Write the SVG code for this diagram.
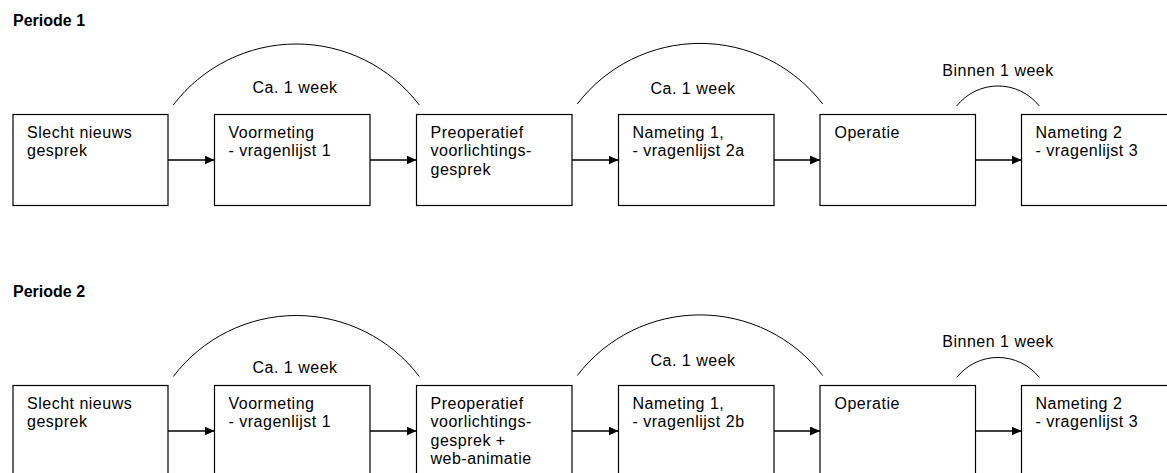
<svg xmlns="http://www.w3.org/2000/svg" width="1167" height="473" viewBox="0 0 1167 473">
<style>
.box{fill:#fff;stroke:#000;stroke-width:1.2}
.t{font-family:"Liberation Sans",Arial,sans-serif;font-size:16px;letter-spacing:0.5px;fill:#000}
.h{font-family:"Liberation Sans",Arial,sans-serif;font-size:16px;font-weight:bold;fill:#000}
.arc{fill:none;stroke:#000;stroke-width:1}
.con{stroke:#000;stroke-width:1.3;fill:none;marker-end:url(#ah)}
</style>
<defs>
<marker id="ah" markerWidth="10" markerHeight="9" refX="10" refY="4.5" orient="auto" markerUnits="userSpaceOnUse">
<path d="M0,0 L10,4.5 L0,9 Z" fill="#000"/>
</marker>
</defs>
<rect width="1167" height="473" fill="#fff"/>

<text class="h" x="13" y="26">Periode 1</text>
<text class="h" x="13" y="297">Periode 2</text>

<g id="arcs">
<path class="arc" d="M173.3,105 A154.5,154.5 0 0 1 419.3,105"/>
<text class="t" x="252.5" y="93">Ca. 1 week</text>
<path class="arc" d="M577.3,104 A154.5,154.5 0 0 1 822.7,104"/>
<text class="t" x="650.5" y="94">Ca. 1 week</text>
<path class="arc" d="M956.7,106 A52.6,52.6 0 0 1 1039.3,106"/>
<text class="t" x="942.3" y="76">Binnen 1 week</text>

<path class="arc" d="M173.3,376.5 A154.5,154.5 0 0 1 419.3,376.5"/>
<text class="t" x="252.5" y="373">Ca. 1 week</text>
<path class="arc" d="M577.3,375.5 A154.5,154.5 0 0 1 822.7,375.5"/>
<text class="t" x="650.5" y="365.5">Ca. 1 week</text>
<path class="arc" d="M956.7,377.5 A52.6,52.6 0 0 1 1039.3,377.5"/>
<text class="t" x="942.3" y="347.3">Binnen 1 week</text>
</g>

<g id="connectors">
<line class="con" x1="168" y1="160" x2="214.5" y2="160"/>
<line class="con" x1="370" y1="160" x2="416.5" y2="160"/>
<line class="con" x1="572" y1="160" x2="618.5" y2="160"/>
<line class="con" x1="774" y1="160" x2="820" y2="160"/>
<line class="con" x1="975.5" y1="160" x2="1021.5" y2="160"/>
<line class="con" x1="168" y1="431" x2="214.5" y2="431"/>
<line class="con" x1="370" y1="431" x2="416.5" y2="431"/>
<line class="con" x1="572" y1="431" x2="618.5" y2="431"/>
<line class="con" x1="774" y1="431" x2="820" y2="431"/>
<line class="con" x1="975.5" y1="431" x2="1021.5" y2="431"/>
</g>

<g id="p1-n1"><rect class="box" x="13" y="114.5" width="155" height="91"/>
<text class="t" x="27" y="137.5">Slecht nieuws</text><text class="t" x="27" y="156">gesprek</text></g>
<g id="p1-n2"><rect class="box" x="214.5" y="114.5" width="155.5" height="91"/>
<text class="t" x="228.5" y="137.5">Voormeting</text><text class="t" x="228.5" y="156">- vragenlijst 1</text></g>
<g id="p1-n3"><rect class="box" x="416.5" y="114.5" width="155.5" height="91"/>
<text class="t" x="430.5" y="137.5">Preoperatief</text><text class="t" x="430.5" y="156">voorlichtings-</text><text class="t" x="430.5" y="174.5">gesprek</text></g>
<g id="p1-n4"><rect class="box" x="618.5" y="114.5" width="155.5" height="91"/>
<text class="t" x="632.5" y="137.5">Nameting 1,</text><text class="t" x="632.5" y="156">- vragenlijst 2a</text></g>
<g id="p1-n5"><rect class="box" x="820" y="114.5" width="155.5" height="91"/>
<text class="t" x="834.5" y="137.5">Operatie</text></g>
<g id="p1-n6"><rect class="box" x="1021.5" y="114.5" width="155.5" height="91"/>
<text class="t" x="1035.5" y="137.5">Nameting 2</text><text class="t" x="1035.5" y="156">- vragenlijst 3</text></g>

<g id="p2-n1"><rect class="box" x="13" y="385.5" width="155" height="91"/>
<text class="t" x="27" y="408.5">Slecht nieuws</text><text class="t" x="27" y="427">gesprek</text></g>
<g id="p2-n2"><rect class="box" x="214.5" y="385.5" width="155.5" height="91"/>
<text class="t" x="228.5" y="408.5">Voormeting</text><text class="t" x="228.5" y="427">- vragenlijst 1</text></g>
<g id="p2-n3"><rect class="box" x="416.5" y="385.5" width="155.5" height="91"/>
<text class="t" x="430.5" y="408.5">Preoperatief</text><text class="t" x="430.5" y="427">voorlichtings-</text><text class="t" x="430.5" y="445.5">gesprek +</text><text class="t" x="430.5" y="464">web-animatie</text></g>
<g id="p2-n4"><rect class="box" x="618.5" y="385.5" width="155.5" height="91"/>
<text class="t" x="632.5" y="408.5">Nameting 1,</text><text class="t" x="632.5" y="427">- vragenlijst 2b</text></g>
<g id="p2-n5"><rect class="box" x="820" y="385.5" width="155.5" height="91"/>
<text class="t" x="834.5" y="408.5">Operatie</text></g>
<g id="p2-n6"><rect class="box" x="1021.5" y="385.5" width="155.5" height="91"/>
<text class="t" x="1035.5" y="408.5">Nameting 2</text><text class="t" x="1035.5" y="427">- vragenlijst 3</text></g>
</svg>
